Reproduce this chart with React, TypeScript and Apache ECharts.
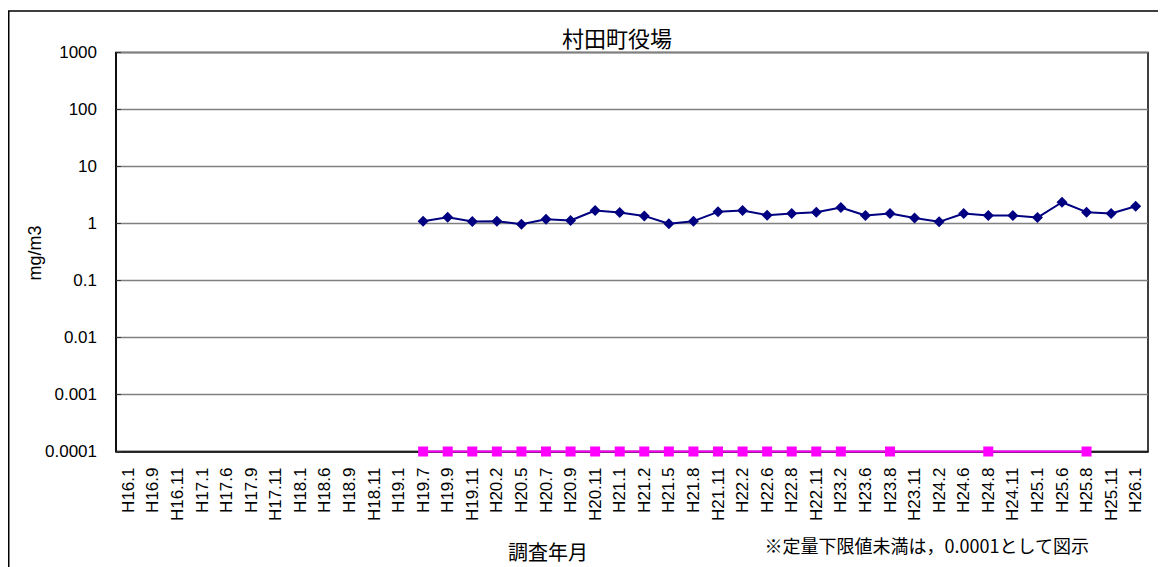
import React, { useEffect, useRef } from "react";
import * as echarts from "echarts";

const categories = [
  "H16.1", "H16.9", "H16.11", "H17.1", "H17.6", "H17.9", "H17.11", "H18.1", "H18.6", "H18.9", "H18.11",
  "H19.1", "H19.7", "H19.9", "H19.11", "H20.2", "H20.5", "H20.7", "H20.9", "H20.11", "H21.1", "H21.2",
  "H21.5", "H21.8", "H21.11", "H22.2", "H22.6", "H22.8", "H22.11", "H23.2", "H23.6", "H23.8", "H23.11",
  "H24.2", "H24.6", "H24.8", "H24.11", "H25.1", "H25.6", "H25.8", "H25.11", "H26.1",
];

const measured: (number | null)[] = [
  null, null, null, null, null, null, null, null, null, null, null, null,
  1.1, 1.29, 1.08, 1.1, 0.97, 1.19, 1.13, 1.69, 1.56, 1.36, 0.99, 1.1, 1.6, 1.69,
  1.4, 1.5, 1.58, 1.91, 1.38, 1.5, 1.25, 1.07, 1.5, 1.38, 1.38, 1.27, 2.36, 1.58, 1.5, 2.01,
];

const belowLimit: (number | null)[] = [
  null, null, null, null, null, null, null, null, null, null, null, null,
  0.0001, 0.0001, 0.0001, 0.0001, 0.0001, 0.0001, 0.0001, 0.0001, 0.0001, 0.0001, 0.0001, 0.0001,
  0.0001, 0.0001, 0.0001, 0.0001, 0.0001, 0.0001, null, 0.0001, null, null, null, 0.0001, null,
  null, null, 0.0001, null, null,
];

const yTickLabels = ["0.0001", "0.001", "0.01", "0.1", "1", "10", "100", "1000"];

const titleText = "村田町役場";
const xAxisTitle = "調査年月";
const yAxisTitle = "mg/m3";
const noteText = "※定量下限値未満は，0.0001として図示";

const latin = "'Liberation Sans', Arial, sans-serif";
const cjk = "'Noto Sans CJK JP', 'Liberation Sans', sans-serif";

export default function App() {
  const ref = useRef<HTMLDivElement>(null);
  useEffect(() => {
    if (!ref.current) return;
    const chart = echarts.init(ref.current, null, { renderer: "svg" });
    chart.setOption({
      animation: false,
      backgroundColor: "#fff",
      grid: { left: 108, top: 44.5, width: 1032, height: 399, show: true, borderColor: "#000", borderWidth: 1.5, backgroundColor: "transparent" },
      xAxis: {
        type: "category",
        data: categories,
        boundaryGap: true,
        axisLine: { lineStyle: { color: "#000", width: 1.5 } },
        axisTick: { inside: true, length: 5, lineStyle: { color: "#000" } },
        axisLabel: { interval: 0, rotate: 90, margin: 16, color: "#000", fontSize: 17, fontFamily: latin },
        splitLine: { show: false },
      },
      yAxis: {
        type: "log",
        logBase: 10,
        min: 0.0001,
        max: 1000,
        interval: 1,
        axisLine: { show: true, lineStyle: { color: "#000", width: 1.5 } },
        axisTick: { show: true, inside: true, length: 5, lineStyle: { color: "#333" } },
        axisLabel: {
          margin: 19,
          color: "#000",
          fontSize: 17,
          fontFamily: latin,
          formatter: (v: number) => yTickLabels[Math.round(Math.log10(v)) + 4] ?? String(v),
        },
        splitLine: { show: true, lineStyle: { color: "#808080", width: 1.3 } },
        minorTick: { show: false },
      },
      series: [
        {
          type: "line",
          data: measured,
          symbol: "diamond",
          symbolSize: 11,
          clip: false,
          lineStyle: { color: "#000080", width: 2 },
          itemStyle: { color: "#000080" },
          z: 4,
        },
        {
          type: "line",
          data: belowLimit,
          connectNulls: true,
          symbol: "rect",
          symbolSize: 10,
          clip: false,
          lineStyle: { color: "#FF00FF", width: 2 },
          itemStyle: { color: "#FF00FF" },
          z: 3,
        },
      ],
      graphic: [
        { type: "rect", shape: { x: 0.75, y: 3, width: 1300, height: 700 }, style: { fill: "none", stroke: "#000", lineWidth: 1.5 }, silent: true, z: -1 },
        { type: "text", x: 609, y: 29, style: { text: titleText, font: `22px ${cjk}`, fill: "#000", textAlign: "center", textVerticalAlign: "middle" } },
        { type: "text", x: 27, y: 245, rotation: Math.PI / 2, style: { text: yAxisTitle, font: `18px ${latin}`, fill: "#000", textAlign: "center", textVerticalAlign: "middle" } },
        { type: "text", x: 540, y: 543, style: { text: xAxisTitle, font: `20px ${cjk}`, fill: "#000", textAlign: "center", textVerticalAlign: "middle" } },
        { type: "text", x: 756.5, y: 537, style: { text: noteText, font: `18px ${cjk}`, fill: "#000", textAlign: "left", textVerticalAlign: "middle" } },
      ],
    });
    return () => chart.dispose();
  }, []);
  return <div ref={ref} style={{ width: 1158, height: 559 }} />;
}
